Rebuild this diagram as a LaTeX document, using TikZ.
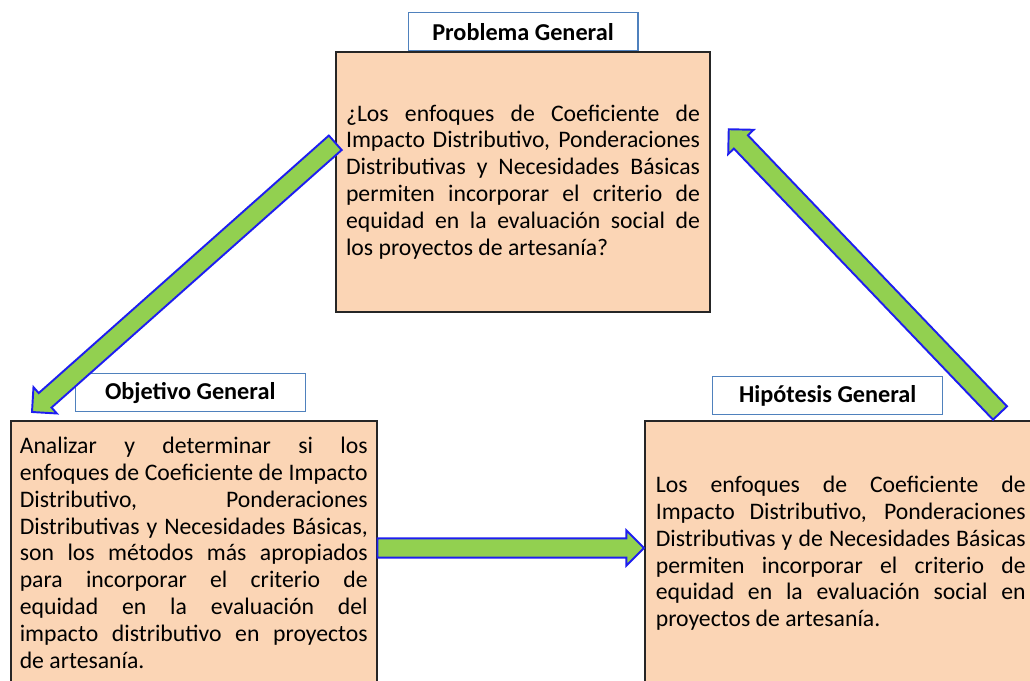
\documentclass[tikz,border=0pt]{standalone}
\usepackage{fontspec}
\setmainfont{Carlito}
\usepackage{tikz}
\usetikzlibrary{calc,positioning}

% block arrow between two points
\newcommand{\bigarrow}[2]{%
  \draw[flecha] ($(#1)!5.5pt!90:(#2)$) -- ($(#2)!10pt!(#1)!5.5pt!-90:(#1)$)
    -- ($(#2)!10pt!(#1)!10pt!-90:(#1)$) -- (#2)
    -- ($(#2)!10pt!(#1)!10pt!90:(#1)$) -- ($(#2)!10pt!(#1)!5.5pt!90:(#1)$)
    -- ($(#1)!5.5pt!-90:(#2)$) -- cycle;
}

\begin{document}
\begin{tikzpicture}[x=0.02cm,y=0.02cm]
    % Define colors
    \definecolor{caja}{RGB}{251,213,181}
    \definecolor{verde}{RGB}{146,208,80}
    \definecolor{borde}{RGB}{30,30,240}
    \definecolor{titulo}{RGB}{79,129,189}

    \tikzset{
        cuadro/.style={draw=black!85, line width=0.9pt, fill=caja, align=justify,
            font=\fontsize{13.5}{15.3}\selectfont, inner ysep=0pt},
        rotulo/.style={draw=titulo, line width=0.6pt, fill=white, minimum width=4.6cm,
            minimum height=0.76cm, inner sep=0pt, font=\fontsize{13.8}{15}\selectfont\bfseries},
        flecha/.style={fill=verde, draw=borde, line width=1.1pt, line join=miter}
    }

    \useasboundingbox (0,0) rectangle (1030,680);

    % Problema
    \node[cuadro, text width=7.08cm, inner xsep=0.2cm, minimum height=5.2cm] (prob) at (523,498)
        {¿Los enfoques de Coeficiente de\linebreak Impacto Distributivo, Ponderaciones\linebreak
         Distributivas y Necesidades Básicas\linebreak permiten incorporar el criterio de\linebreak
         equidad en la evaluación social de\linebreak los proyectos de artesanía?};
    \node[rotulo, above=0pt of prob] (tprob) {Problema General};

    % Objetivo
    \node[cuadro, anchor=north west, text width=6.96cm, inner xsep=0.18cm, minimum height=5.28cm] (obj) at (10,260)
        {Analizar y determinar si los\linebreak enfoques de Coeficiente de Impacto\linebreak
         Distributivo, Ponderaciones\linebreak Distributivas y Necesidades Básicas,\linebreak
         son los métodos más apropiados\linebreak para incorporar el criterio de\linebreak
         equidad en la evaluación del\linebreak impacto distributivo en proyectos\linebreak
         de artesanía.};
    \node[rotulo, above=4.5pt of obj, xshift=-0.07cm] (tobj) {Objetivo General};

    % Hipotesis
    \node[cuadro, anchor=north west, text width=7.4cm, inner xsep=0.22cm, minimum height=5.3cm] (hip) at (644,260)
        {Los enfoques de Coeficiente de\linebreak Impacto Distributivo, Ponderaciones\linebreak
         Distributivas y de Necesidades Básicas\linebreak permiten incorporar el criterio de\linebreak
         equidad en la evaluación social en\linebreak proyectos de artesanía.};
    \node[rotulo, above=2.8pt of hip, xshift=-0.26cm] (thip) {Hipótesis General};

    % Arrows
    \coordinate (a1) at ($(prob.north west)!0.35!(prob.south west)$);
    \coordinate (b1) at ([shift={(22,8)}]obj.north west);
    \coordinate (a2) at ([shift={(0,-128)}]obj.north east);
    \coordinate (b2) at ([shift={(0,-128)}]hip.north west);
    \coordinate (a3) at ([shift={(356,7)}]hip.north west);
    \coordinate (b3) at ([shift={(18,-78)}]prob.north east);
    \bigarrow{a1}{b1}
    \bigarrow{a2}{b2}
    \bigarrow{a3}{b3}

\end{tikzpicture}
\end{document}
